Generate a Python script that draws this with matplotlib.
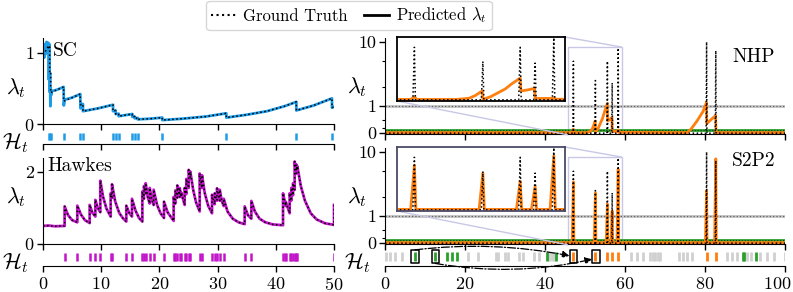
import matplotlib
matplotlib.use("Agg")
import matplotlib.pyplot as plt
from matplotlib.lines import Line2D
from matplotlib.patches import Rectangle
from matplotlib.transforms import ScaledTranslation
from mpl_toolkits.axes_grid1.inset_locator import mark_inset

plt.rcParams['font.family'] = 'cmr10'
plt.rcParams['mathtext.fontset'] = 'cm'
plt.rcParams['axes.formatter.use_mathtext'] = True

# ---------------- data ----------------
# self-correcting process (left top)
sc_events = [0.97, 1.15, 1.32, 3.55, 6.41, 6.87, 12.03, 12.49, 13.0, 15.35,
             15.75, 16.27, 20.5, 31.5, 43.53, 49.65]
sc_t = [0.0, 0.5, 0.97, 0.97, 1.15, 1.15, 1.32, 1.32, 2.4, 3.55, 3.55, 5.0,
        6.41, 6.41, 6.87, 6.87, 9.5, 12.03, 12.03, 12.49, 12.49, 13.0, 13.0,
        15.35, 15.35, 15.75, 15.75, 16.27, 16.27, 18.5, 20.5, 20.5, 24.0,
        28.0, 31.5, 31.5, 35.0, 38.5, 41.5, 43.53, 43.53, 46.5, 49.65,
        49.65, 50.0]
sc_lam = [0.97, 1.03, 1.10, 1.05, 1.08, 0.70, 0.71, 0.44, 0.48, 0.52, 0.32,
          0.37, 0.42, 0.27, 0.28, 0.18, 0.22, 0.27, 0.18, 0.19, 0.14, 0.145,
          0.11, 0.14, 0.10, 0.105, 0.08, 0.085, 0.065, 0.075, 0.09, 0.055,
          0.075, 0.105, 0.15, 0.09, 0.13, 0.18, 0.25, 0.31, 0.19, 0.26, 0.36,
          0.23, 0.24]
sc_pred_t = [0.0, 0.12, 0.2, 0.35, 0.45, 0.6, 0.75, 0.9, 0.97, 1.02, 1.1,
             1.15, 1.2, 1.27, 1.32, 1.38, 1.5, 2.4, 3.55, 3.58, 3.7, 5.0,
             6.41, 6.45, 6.6, 6.87, 6.87] + sc_t[16:]
sc_pred_lam = [0.95, 1.1, 0.93, 1.12, 0.98, 1.15, 1.0, 1.14, 1.05, 0.62,
               1.12, 0.45, 0.72, 0.25, 0.5, 0.4, 0.46, 0.48, 0.52, 0.26,
               0.34, 0.37, 0.42, 0.22, 0.28, 0.28, 0.18] + sc_lam[16:]

# Hawkes process (left bottom)
hawkes_events = [3.72, 5.90, 8.02, 9.0, 9.85, 11.63, 11.86, 14.32, 15.29,
                 17.07, 17.35, 17.64, 18.33, 19.01, 20.79, 22.45, 22.74,
                 23.08, 23.48, 23.77, 24.34, 24.63, 25.03, 25.31, 26.92,
                 27.32, 29.04, 29.50, 29.90, 30.36, 31.05, 34.65, 35.80,
                 41.24, 41.52, 41.70, 42.38, 42.67, 42.96, 43.24, 43.53,
                 43.70, 50.0]
hawkes_t = [0.0, 1.0, 2.0, 3.72, 3.72, 4.3, 5.0, 5.9,
            5.9, 6.5, 7.2, 8.02,
            8.02, 8.5, 9.0,
            9.0, 9.4, 9.85,
            9.85, 10.3, 10.9, 11.63,
            11.63, 11.86,
            11.86, 12.4, 13.1, 13.7, 14.32,
            14.32, 14.8, 15.29,
            15.29, 15.9, 16.5, 17.07,
            17.07, 17.35,
            17.35, 17.64,
            17.64, 18.0, 18.33,
            18.33, 18.7, 19.01,
            19.01, 19.6, 20.2, 20.79,
            20.79, 21.4, 22.45,
            22.45, 22.74,
            22.74, 23.08,
            23.08, 23.48,
            23.48, 23.77,
            23.77, 24.34,
            24.34, 24.63,
            24.63, 25.03,
            25.03, 25.31,
            25.31, 25.8, 26.3, 26.92,
            26.92, 27.32,
            27.32, 27.8, 28.4, 29.04,
            29.04, 29.5,
            29.5, 29.9,
            29.9, 30.36,
            30.36, 30.7, 31.05,
            31.05, 31.7, 32.6, 33.6, 34.65,
            34.65, 35.2, 35.8,
            35.8, 36.4, 37.2, 38.2, 39.5, 41.24,
            41.24, 41.7,
            41.7, 42.38,
            42.38, 42.67,
            42.67, 42.96,
            42.96, 43.24,
            43.24, 43.53,
            43.53, 43.7,
            43.7, 44.3, 45.0, 46.0, 47.0, 48.5, 50.0,
            50.0]
hawkes_lam = [0.5, 0.51, 0.49, 0.5, 1.04, 0.8, 0.66, 0.6,
              1.06, 0.82, 0.66, 0.58,
              1.08, 0.86, 0.76,
              1.22, 1.0, 0.88,
              1.75, 1.32, 0.98, 0.76,
              1.40, 1.28,
              1.65, 1.18, 0.86, 0.72, 0.62,
              1.06, 0.86, 0.76,
              1.25, 0.92, 0.72, 0.62,
              1.45, 1.25,
              1.60, 1.40,
              1.68, 1.30, 1.12,
              1.55, 1.22, 1.08,
              1.50, 1.08, 0.85, 0.72,
              1.17, 0.88, 0.64,
              1.30, 1.12,
              1.48, 1.28,
              1.62, 1.30,
              1.55, 1.30,
              1.42, 1.08,
              1.55, 1.38,
              1.80, 1.55,
              2.05, 1.85,
              2.00, 1.50, 1.15, 0.90,
              1.95, 1.55,
              1.90, 1.40, 1.05, 0.85,
              1.36, 1.10,
              1.40, 1.20,
              1.54, 1.20,
              1.50, 1.20, 1.05,
              1.25, 0.90, 0.70, 0.60, 0.55,
              1.04, 0.80, 0.70,
              1.19, 0.90, 0.70, 0.60, 0.54, 0.52,
              1.40, 1.05,
              1.17, 0.85,
              1.40, 1.20,
              1.55, 1.35,
              1.68, 1.50,
              2.28, 1.95,
              2.20, 2.05,
              2.15, 1.60, 1.20, 0.85, 0.68, 0.57, 0.53,
              1.08]

# multivariate sequence (right)
gray_events = [0.3, 1.3, 2.6, 4.2, 20.8, 23.3, 27.8, 28.3, 30.0, 30.7, 33.6,
               34.4, 37.3, 38.6, 41.1, 41.7, 42.3, 61.4, 62.9, 64.6, 66.25,
               66.9, 67.6, 68.25, 68.75, 73.5, 74.6, 75.6, 76.8, 85.4, 86.8,
               88.1, 90.4, 91.5, 93.8, 95.5, 97.2, 99.9]
green_events = [7.5, 12.6, 15.4, 16.7, 18.1, 40.4, 42.75, 89.4, 89.8, 92.8]
orange_events = [47.1, 52.6, 55.6, 56.8, 58.3, 80.4, 82.7]
gt_peaks = [5.0, 2.5, 5.0, 2.3, 8.0, 10.0, 7.3]
s2p2_peaks = [3.4, 2.3, 1.55, 1.2, 5.4, 2.5, 7.8]
nhp_t = [0.0, 46.8, 47.1, 47.3, 50.5, 51.5, 52.0, 52.55, 52.6, 53.2, 53.8,
         54.4, 54.9, 55.6, 55.65, 56.2, 56.75, 56.8, 58.2, 58.3, 58.4, 75.5,
         76.5, 78.0, 79.5, 80.4, 80.45, 81.5, 82.65, 82.75, 100.0]
nhp_lam = [0.02, 0.02, 0.15, 0.02, 0.02, 0.08, 0.22, 0.45, 0.03, 0.15, 0.35,
           0.55, 0.8, 1.1, 0.45, 0.5, 0.58, 0.07, 0.07, 0.12, 0.03, 0.02,
           0.15, 0.45, 0.8, 1.15, 0.35, 0.5, 0.65, 0.02, 0.02]
gray_level = 1.0
green_level = 0.12
orange_base = 0.02
boxed_green = [7.5, 12.6]
boxed_orange = [47.1, 52.75]

# ---------------- styles ----------------
c_sc = '#1e9be6'
c_hk = '#c214c8'
c_or = '#ff7f0e'
c_gr = '#2ca02c'
c_gy = '#d0d0d0'
lab_fs = 16
tick_fs = 13


def spike_path(times, peaks, base, left, right):
    t, y = [0.0], [base]
    for ti, pk in zip(times, peaks):
        t += [ti - left, ti, ti + right]
        y += [base, pk, base]
    t.append(100.0)
    y.append(base)
    return t, y


def style_lambda(ax, xmax, xstep):
    ax.spines['top'].set_visible(False)
    ax.spines['right'].set_visible(False)
    ax.set_xlim(0, xmax)
    ax.set_xticks(range(0, xmax + 1, xstep))
    ax.tick_params(direction='out', length=4, width=1, labelsize=tick_fs, pad=2)
    ax.tick_params(axis='x', labelbottom=False)
    ax.tick_params(which='minor', length=2.5, width=0.8)
    ax.patch.set_alpha(0)


def style_events(ax, xmax, xstep, labels):
    for s in ['top', 'right', 'left']:
        ax.spines[s].set_visible(False)
    ax.set_xlim(0, xmax)
    ax.set_ylim(0, 1)
    ax.set_yticks([])
    ax.set_xticks(range(0, xmax + 1, xstep))
    ax.tick_params(direction='out', length=4, width=1, labelsize=tick_fs, pad=3,
                   labelbottom=labels)
    ax.patch.set_alpha(0)


fig = plt.figure(figsize=(7.93, 2.92), dpi=100)

ax_sc = fig.add_axes([0.0542, 0.5753, 0.3670, 0.2955])
ax_sc_h = fig.add_axes([0.0542, 0.5068, 0.3670, 0.0514])
ax_hk = fig.add_axes([0.0542, 0.1644, 0.3670, 0.2935])
ax_hk_h = fig.add_axes([0.0542, 0.0890, 0.3670, 0.0582])
ax_nhp = fig.add_axes([0.4855, 0.5411, 0.5044, 0.3288])
ax_s2 = fig.add_axes([0.4855, 0.1644, 0.5044, 0.3288])
ax_s2_h = fig.add_axes([0.4855, 0.0890, 0.5044, 0.0582])

# ---- SC ----
ax_sc.plot(sc_pred_t, sc_pred_lam, color=c_sc, lw=2)
ax_sc.plot(sc_t, sc_lam, color='k', ls=':', lw=1.1)
style_lambda(ax_sc, 50, 10)
ax_sc.set_ylim(0, 1.21)
ax_sc.set_yticks([0, 1])
ax_sc.text(0.035, 0.84, 'SC', transform=ax_sc.transAxes, fontsize=14, va='center')
ax_sc_h.vlines(sc_events, 0.27, 0.73, color=c_sc, lw=1.8)
style_events(ax_sc_h, 50, 10, False)

# ---- Hawkes ----
ax_hk.plot(hawkes_t, hawkes_lam, color=c_hk, lw=2)
ax_hk.plot(hawkes_t, hawkes_lam, color='k', ls=':', lw=1.1)
style_lambda(ax_hk, 50, 10)
ax_hk.set_ylim(0, 2.37)
ax_hk.set_yticks([0, 2])
ax_hk.text(0.014, 0.91, 'Hawkes', transform=ax_hk.transAxes, fontsize=14, va='center')
ax_hk_h.vlines(hawkes_events, 0.29, 0.76, color=c_hk, lw=1.8)
style_events(ax_hk_h, 50, 10, True)

for ax, y in [(ax_sc, 0.42), (ax_hk, 0.55)]:
    ax.set_ylabel(r'$\lambda_t$', rotation=0, fontsize=lab_fs, va='center', ha='center')
    ax.yaxis.set_label_coords(-0.093, y)
for ax, y in [(ax_sc_h, 0.05), (ax_hk_h, 0.2)]:
    ax.set_ylabel(r'$\mathcal{H}_t$', rotation=0, fontsize=lab_fs, va='center', ha='center')
    ax.yaxis.set_label_coords(-0.093, y)

# ---- right panels ----
gt_t, gt_y = spike_path(orange_events, gt_peaks, 0.0, 0.12, 0.08)
s2_t, s2_y = spike_path(orange_events, s2p2_peaks, orange_base, 0.3, 0.12)

for ax, name, pt, py, ty in [(ax_nhp, 'NHP', nhp_t, nhp_lam, 0.80),
                             (ax_s2, 'S2P2', s2_t, s2_y, 0.86)]:
    ax.set_yscale('symlog', linthresh=1, linscale=0.38)
    ax.axhline(gray_level, color='#c4c4c4', lw=2)
    ax.axhline(gray_level, color='k', ls=':', lw=0.9, alpha=0.5)
    ax.axhline(green_level, color=c_gr, lw=2)
    ax.axhline(green_level, color='k', ls=':', lw=0.8, alpha=0.6)
    ax.plot(pt, py, color=c_or, lw=2)
    ax.plot(gt_t, gt_y, color='k', ls=':', lw=1.1)
    style_lambda(ax, 100, 20)
    ax.set_ylim(-0.03, 11.5)
    ax.set_yticks([0, 1, 10])
    ax.set_yticklabels(['0', '1', '10'])
    ax.set_yticks([0.2, 0.5, 2, 5], minor=True)
    ax.set_yticklabels([], minor=True)
    ax.text(0.868, ty, name, transform=ax.transAxes, fontsize=14, va='center')
    ax.set_ylabel(r'$\lambda_t$', rotation=0, fontsize=lab_fs, va='center', ha='center')
    ax.yaxis.set_label_coords(-0.07, 0.49)

# insets
for pos, ax, pt, py, ec in [([0.5006, 0.6541, 0.2119, 0.2192], ax_nhp, nhp_t, nhp_lam, 'k'),
                            ([0.5006, 0.2774, 0.2119, 0.2192], ax_s2, s2_t, s2_y, '#4a4a68')]:
    axin = fig.add_axes(pos)
    axin.set_yscale('symlog', linthresh=1, linscale=0.38)
    axin.plot(pt, py, color=c_or, lw=2)
    axin.plot(gt_t, gt_y, color='k', ls=':', lw=1.1)
    axin.set_xlim(45.7, 59.2)
    axin.set_ylim(-0.06, 8.3)
    axin.set_xticks([])
    axin.set_yticks([])
    axin.set_yticks([], minor=True)
    for s in axin.spines.values():
        s.set_edgecolor(ec)
        s.set_linewidth(1.3)
    mark_inset(ax, axin, loc1=1, loc2=3, fc='none', ec='#c8c8e6', lw=1)

# event row for S2P2
ax_s2_h.vlines(gray_events, 0.29, 0.82, color=c_gy, lw=2)
ax_s2_h.vlines(green_events, 0.29, 0.82, color=c_gr, lw=2)
ax_s2_h.vlines(orange_events, 0.29, 0.82, color=c_or, lw=2)
style_events(ax_s2_h, 100, 20, True)
ax_s2_h.set_ylabel(r'$\mathcal{H}_t$', rotation=0, fontsize=lab_fs, va='center', ha='center')
ax_s2_h.yaxis.set_label_coords(-0.068, 0.2)
last = ax_s2_h.xaxis.get_major_ticks()[-1].label1
last.set_transform(last.get_transform() + ScaledTranslation(-8 / 100, 0, fig.dpi_scale_trans))
for x in boxed_green + boxed_orange:
    ax_s2_h.add_patch(Rectangle((x - 0.9, 0.15), 1.8, 0.8, fill=False, ec='k',
                                lw=1.1, joinstyle='round', clip_on=False))
ax_s2_h.annotate('', xy=(boxed_orange[0] - 1.0, 0.6), xytext=(boxed_green[0], 0.95),
                 arrowprops=dict(arrowstyle='-|>', ls='-.', color='k', lw=0.9,
                                 connectionstyle='arc3,rad=-0.08', shrinkA=0, shrinkB=0),
                 annotation_clip=False)
ax_s2_h.annotate('', xy=(boxed_orange[1] - 1.0, 0.4), xytext=(boxed_green[1], 0.15),
                 arrowprops=dict(arrowstyle='-|>', ls='-.', color='k', lw=0.9,
                                 connectionstyle='arc3,rad=0.1', shrinkA=0, shrinkB=0),
                 annotation_clip=False)

# legend
handles = [Line2D([], [], color='k', ls=':', lw=1.5),
           Line2D([], [], color='k', lw=2)]
fig.legend(handles, ['Ground Truth', r'Predicted $\lambda_t$'], loc='center',
           bbox_to_anchor=(0.44, 0.947), ncol=2, fontsize=12, frameon=True,
           edgecolor='#cccccc', handlelength=1.5, columnspacing=1.0,
           borderpad=0.3, handletextpad=0.4)

fig.savefig('out.png', dpi=100)
